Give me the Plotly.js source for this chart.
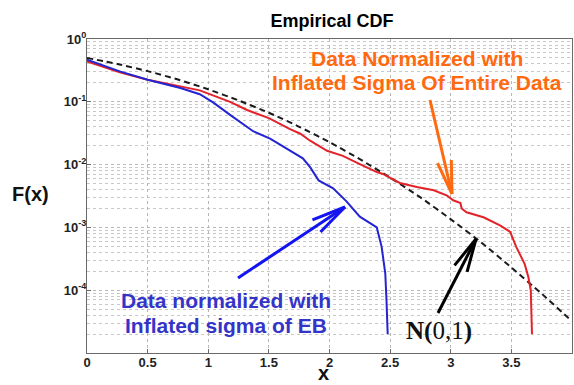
<!DOCTYPE html>
<html><head><meta charset="utf-8">
<script src="https://cdn.plot.ly/plotly-3.0.1.min.js"></script>
<style>html,body{margin:0;padding:0;background:#fff}#chart{width:574px;height:385px}</style>
</head><body><div id="chart"></div>
<script>
// ---- data ----
const xTickVals = [0, 0.5, 1, 1.5, 2, 2.5, 3, 3.5, 4];
const xTickText = ['0', '0.5', '1', '1.5', '2', '2.5', '3', '3.5', '4'];
const yTickVals = [1, 0.1, 0.01, 0.001, 0.0001];
const yTickText = ['10<sup>0</sup>', '10<sup>-1</sup>', '10<sup>-2</sup>', '10<sup>-3</sup>', '10<sup>-4</sup>'];

// N(0,1) reference curve (black dashed)
const normalX = [0, 0.25, 0.5, 0.75, 1, 1.25, 1.5, 1.75, 2, 2.25, 2.5, 2.75, 3, 3.25, 3.5, 3.75, 4];
const normalY = [0.5, 0.40, 0.308, 0.226, 0.158, 0.105, 0.067, 0.040, 0.0228, 0.0122, 0.0062, 0.0030, 0.00135, 0.00058, 0.00023, 0.000088, 0.000032];

// Data normalized with inflated sigma of entire data (red)
const redX = [0, 0.27, 0.5, 0.77, 0.93, 1.18, 1.32, 1.5, 1.67, 1.76, 1.84, 1.98, 2.11, 2.25, 2.39, 2.44, 2.58, 2.72, 2.86, 2.97, 3.02, 3.08, 3.09, 3.13, 3.27, 3.41, 3.49, 3.54, 3.61, 3.64, 3.66, 3.67];
const redY = [0.44, 0.295, 0.225, 0.176, 0.152, 0.100, 0.074, 0.055, 0.037, 0.031, 0.024, 0.0166, 0.0138, 0.0102, 0.0076, 0.0071, 0.0051, 0.0044, 0.0039, 0.0032, 0.0027, 0.00245, 0.0020, 0.00174, 0.00145, 0.00107, 0.00085, 0.00049, 0.00026, 0.000162, 0.0001, 0.00002];

// Data normalized with inflated sigma of EB (blue)
const blueX = [0, 0.27, 0.5, 0.77, 0.93, 1.04, 1.18, 1.37, 1.51, 1.65, 1.78, 1.84, 1.91, 2.03, 2.14, 2.25, 2.39, 2.43, 2.46, 2.47, 2.48];
const blueY = [0.47, 0.305, 0.225, 0.166, 0.132, 0.098, 0.062, 0.034, 0.026, 0.0178, 0.0126, 0.0091, 0.0056, 0.0042, 0.0026, 0.00148, 0.0010, 0.00049, 0.000186, 0.000069, 0.00002];

// ---- layout geometry ----
const W = 574, H = 385;
const M = {l: 87, r: 2, t: 39, b: 32, pad: 0};
const PW = W - M.l - M.r, PH = H - M.t - M.b;
const px = x => (x - M.l) / PW;
const py = y => (H - M.b - y) / PH;

const SANS = 'Liberation Sans, Arial, sans-serif';
const ORANGE = '#ff6a10', BLUE_TXT = '#3434c8', BLUE_ARR = '#1414f0';

// minor log gridlines
const minorY = [];
for (let e = -5; e < 0; e++) for (let d = 2; d <= 9; d++) minorY.push(d * Math.pow(10, e));

function arrow(tail, tip, color, width, len, angDeg) {
  const dx = tail[0] - tip[0], dy = tail[1] - tip[1];
  const n = Math.hypot(dx, dy), ux = dx / n, uy = dy / n;
  const a = angDeg * Math.PI / 180;
  const rot = s => [tip[0] + len * (ux * Math.cos(s) - uy * Math.sin(s)), tip[1] + len * (ux * Math.sin(s) + uy * Math.cos(s))];
  const p1 = rot(a), p2 = rot(-a);
  const seg = (A, B) => ({type: 'line', xref: 'paper', yref: 'paper', x0: px(A[0]), y0: py(A[1]), x1: px(B[0]), y1: py(B[1]),
    line: {color, width}, layer: 'above'});
  return [seg(tail, tip), seg(p1, tip), seg(p2, tip)];
}

const traces = [
  {x: normalX, y: normalY, mode: 'lines', line: {color: '#1a1a1a', width: 2, dash: '6px,4px', shape: 'spline', smoothing: 0.6}, hoverinfo: 'skip'},
  {x: redX, y: redY, mode: 'lines', line: {color: '#e3232a', width: 2}, hoverinfo: 'skip'},
  {x: blueX, y: blueY, mode: 'lines', line: {color: '#2424d2', width: 2}, hoverinfo: 'skip'}
];

function txt(text, cx, cy, size, color, family, extra) {
  return Object.assign({text, xref: 'paper', yref: 'paper', x: px(cx), y: py(cy), xanchor: 'center', yanchor: 'middle',
    showarrow: false, font: {family: family || SANS, size, color, weight: 'bold'}}, extra || {});
}

const layout = {
  width: W, height: H, margin: M, showlegend: false,
  paper_bgcolor: '#fff', plot_bgcolor: '#fff',
  title: {text: 'Empirical CDF', font: {family: SANS, size: 18, color: '#000', weight: 'bold'},
    xref: 'container', yref: 'container', x: 332 / W, xanchor: 'center', y: (H - 21) / H, yanchor: 'middle'},
  xaxis: {range: [0, 4], tickmode: 'array', tickvals: xTickVals, ticktext: xTickText,
    showgrid: true, gridcolor: '#b8b8b8', griddash: 'dot', gridwidth: 1, zeroline: false,
    showline: true, mirror: true, linecolor: '#6a6a6a', linewidth: 1,
    ticks: 'inside', ticklen: 4, tickcolor: '#6a6a6a', ticklabelstandoff: -3,
    tickfont: {family: SANS, size: 13, color: '#222', weight: 'bold'}},
  yaxis: {type: 'log', range: [-5, 0], tickmode: 'array', tickvals: yTickVals, ticktext: yTickText,
    showgrid: true, gridcolor: '#b8b8b8', griddash: 'dot', gridwidth: 1, zeroline: false,
    showline: true, mirror: true, linecolor: '#6a6a6a', linewidth: 1,
    ticks: 'inside', ticklen: 4, tickcolor: '#6a6a6a', ticklabelstandoff: -3,
    tickfont: {family: SANS, size: 13, color: '#222', weight: 'bold'},
    minor: {tickmode: 'array', tickvals: minorY, showgrid: true, gridcolor: '#c8c8c8', griddash: 'dot', gridwidth: 1, ticks: ''}},
  annotations: [
    txt('F(x)', 30, 194, 20, '#111'),
    txt('x', 323, 373, 20, '#111'),
    txt('Data Normalized with', 417, 58, 21, ORANGE),
    txt('Inflated Sigma Of Entire Data', 417, 82, 21, ORANGE),
    txt('Data normalized with', 226, 300, 21, BLUE_TXT),
    txt('Inflated sigma of EB', 226, 325, 21, BLUE_TXT),
    txt('<b>N(</b>0,1<b>)</b>', 439, 331, 25, '#111', null, {font: {family: 'Liberation Serif, Times New Roman, serif', size: 25, color: '#111', weight: 'normal'}})
  ],
  shapes: [].concat(
    arrow([430, 100], [452, 194], ORANGE, 3, 34, 12),
    arrow([238, 278], [345, 207], BLUE_ARR, 3, 35, 12),
    arrow([438, 313], [476, 239], '#000', 3, 34, 12)
  )
};

Plotly.newPlot('chart', traces, layout, {staticPlot: true, displayModeBar: false});
</script></body></html>
